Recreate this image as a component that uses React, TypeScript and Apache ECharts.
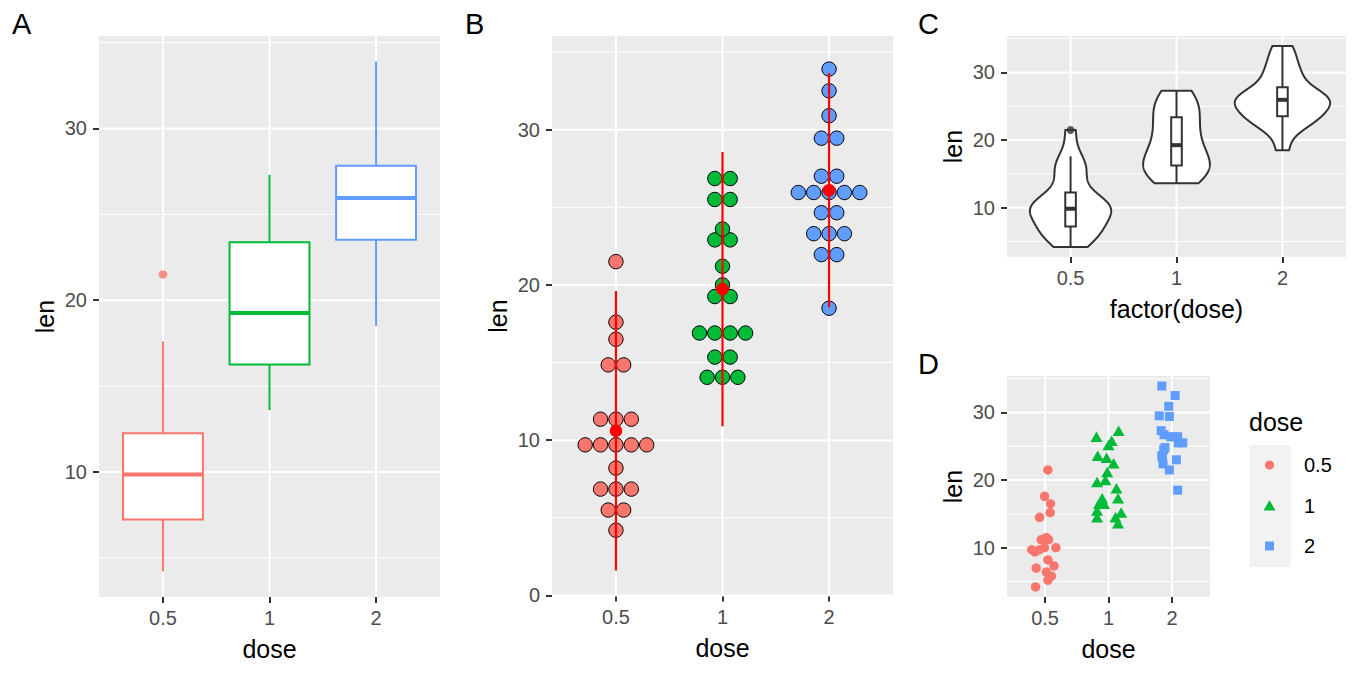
import React, { useEffect, useRef } from 'react';
import * as echarts from 'echarts';

// ---------- data ----------
const doseLabels = ['0.5', '1', '2'];
const dosePositions = [1, 2, 3];
const doseColors = ['#F8766D', '#00BA38', '#619CFF'];

const lenDose05 = [4.2, 5.2, 5.8, 6.4, 7.0, 7.3, 8.2, 9.4, 9.7, 9.7, 10.0, 10.0, 11.2, 11.2, 11.5, 14.5, 15.2, 16.5, 17.6, 21.5];
const lenDose1 = [13.6, 14.5, 14.5, 15.2, 15.5, 16.5, 16.5, 17.3, 17.3, 18.8, 19.7, 20.0, 21.2, 22.5, 23.3, 23.6, 25.2, 25.8, 26.4, 27.3];
const lenDose2 = [18.5, 21.5, 22.4, 23.0, 23.3, 23.6, 24.5, 24.8, 25.5, 25.5, 26.4, 26.4, 26.4, 26.7, 27.3, 29.4, 29.5, 30.9, 32.5, 33.9];

// horizontal jitter (in category units), aligned with the arrays above
const jitterDose05 = [-0.15, 0.045, 0.1, 0.02, -0.14, 0.14, 0.045, -0.16, -0.21, -0.09, -0.01, 0.17, -0.06, 0.055, 0.02, -0.086, 0.08, 0.086, -0.008, 0.044];
const jitterDose1 = [0.15, -0.18, 0.11, 0.2, -0.18, -0.15, -0.07, -0.1, 0.15, 0.125, -0.18, -0.05, -0.02, 0.08, -0.03, -0.17, 0.0, 0.05, -0.19, 0.16];
const jitterDose2 = [0.09, -0.04, -0.14, 0.07, -0.15, -0.16, -0.13, -0.11, 0.1, 0.17, -0.02, 0.04, 0.09, -0.125, -0.17, -0.04, -0.2, -0.05, 0.05, -0.16];

const yMajorACD = [10, 20, 30];
const yMajorB = [0, 10, 20, 30];
const yMinor = [5, 15, 25, 35];

const groups = [lenDose05, lenDose1, lenDose2];
const jitters = [jitterDose05, jitterDose1, jitterDose2];

// ---------- stats ----------
const FONT = '"Liberation Sans", Arial, sans-serif';
const sortNum = (a: number[]) => [...a].sort((x, y) => x - y);
const quantile7 = (s: number[], p: number) => {
  const h = (s.length - 1) * p;
  const lo = Math.floor(h);
  const hi = Math.ceil(h);
  return s[lo] + (h - lo) * (s[hi] - s[lo]);
};
const meanOf = (a: number[]) => a.reduce((s, v) => s + v, 0) / a.length;
const sdOf = (a: number[]) => {
  const m = meanOf(a);
  return Math.sqrt(a.reduce((s, v) => s + (v - m) * (v - m), 0) / (a.length - 1));
};
function boxStats(vals: number[]) {
  const s = sortNum(vals);
  const q1 = quantile7(s, 0.25);
  const med = quantile7(s, 0.5);
  const q3 = quantile7(s, 0.75);
  const iqr = q3 - q1;
  const lo = q1 - 1.5 * iqr;
  const hi = q3 + 1.5 * iqr;
  const inside = s.filter((v) => v >= lo && v <= hi);
  return { min: inside[0], q1, med, q3, max: inside[inside.length - 1], outliers: s.filter((v) => v < lo || v > hi) };
}
const allLen = groups.flat();
const dotBinwidth = (Math.max(...allLen) - Math.min(...allLen)) / 30;
function dotBins(vals: number[], bw: number) {
  const s = sortNum(vals);
  const bins: number[][] = [];
  let end = -Infinity;
  let cur: number[] = [];
  for (const v of s) {
    if (v >= end) {
      if (cur.length) bins.push(cur);
      cur = [];
      end = v + bw;
    }
    cur.push(v);
  }
  if (cur.length) bins.push(cur);
  return bins.map((b) => [(b[0] + b[b.length - 1]) / 2, b.length]);
}
function bwNrd0(s: number[]) {
  const hi = sdOf(s);
  const iqr = quantile7(s, 0.75) - quantile7(s, 0.25);
  let lo = Math.min(hi, iqr / 1.34);
  if (!lo) lo = hi || 1;
  return 0.9 * lo * Math.pow(s.length, -0.2);
}
function kde(vals: number[], n = 256) {
  const s = sortNum(vals);
  const bw = bwNrd0(s);
  const lo = s[0];
  const hi = s[s.length - 1];
  const out: number[][] = [];
  for (let i = 0; i < n; i++) {
    const y = lo + ((hi - lo) * i) / (n - 1);
    let d = 0;
    for (const v of s) {
      const z = (y - v) / bw;
      d += Math.exp(-0.5 * z * z);
    }
    d /= s.length * bw * Math.sqrt(2 * Math.PI);
    out.push([y, d]);
  }
  return out;
}

const stats = groups.map(boxStats);
const densities = groups.map((g) => kde(g));
const maxDensity = Math.max(...densities.map((d) => Math.max(...d.map((p) => p[1]))));
const violinShapes = densities.map((d) => d.map(([y, dd]) => [y, (0.45 * dd) / maxDensity]));

// ---------- helpers for option ----------
const xAxisFor = (gi: number, name: string) => ({
  gridIndex: gi,
  type: 'value',
  min: 0.4,
  max: 3.6,
  name,
  nameLocation: 'middle',
  nameGap: 39,
  nameTextStyle: { fontSize: 25, color: '#000000', fontFamily: FONT },
  axisLine: { show: false },
  splitLine: { show: false },
  axisTick: { show: true, customValues: dosePositions, length: 6, lineStyle: { color: '#333333', width: 2 } },
  axisLabel: {
    customValues: dosePositions,
    formatter: (v: number) => doseLabels[Math.round(v) - 1],
    fontSize: 20,
    color: '#4D4D4D',
    margin: 11,
    fontFamily: FONT,
  },
});
const yAxisFor = (gi: number, min: number, max: number, major: number[]) => ({
  gridIndex: gi,
  type: 'value',
  min,
  max,
  name: 'len',
  nameLocation: 'middle',
  nameRotate: 90,
  nameGap: 42,
  nameTextStyle: { fontSize: 25, color: '#000000', fontFamily: FONT },
  axisLine: { show: false },
  splitLine: { show: false },
  axisTick: { show: true, customValues: major, length: 6, lineStyle: { color: '#333333', width: 2 } },
  axisLabel: { customValues: major, fontSize: 20, color: '#4D4D4D', margin: 12, fontFamily: FONT },
});
const gridSeries = (gi: number, major: number[]) => ({
  type: 'custom',
  xAxisIndex: gi,
  yAxisIndex: gi,
  z: 1,
  silent: true,
  data: [
    ...yMinor.map((v) => [0, v, 1]),
    ...major.map((v) => [0, v, 2]),
    ...dosePositions.map((v) => [1, v, 2]),
  ],
  renderItem: (params: any, api: any) => {
    const cs = params.coordSys;
    const o = api.value(0);
    const v = api.value(1);
    const w = api.value(2);
    if (o === 0) {
      const y = api.coord([1, v])[1];
      return { type: 'line', shape: { x1: cs.x, y1: y, x2: cs.x + cs.width, y2: y }, style: { stroke: '#FFFFFF', lineWidth: w } };
    }
    const x = api.coord([v, 10])[0];
    return { type: 'line', shape: { x1: x, y1: cs.y, x2: x, y2: cs.y + cs.height }, style: { stroke: '#FFFFFF', lineWidth: w } };
  },
});
const boxSeries = (gi: number, half: number, colorFn: (i: number) => string, lw: number, medLw: number) => ({
  type: 'custom',
  xAxisIndex: gi,
  yAxisIndex: gi,
  z: 3,
  data: stats.map((s, i) => [dosePositions[i], s.min, s.q1, s.med, s.q3, s.max]),
  encode: { x: 0, y: [1, 2, 3, 4, 5] },
  renderItem: (params: any, api: any) => {
    const x = api.value(0);
    const pMin = api.coord([x, api.value(1)]);
    const pQ1 = api.coord([x, api.value(2)]);
    const pMd = api.coord([x, api.value(3)]);
    const pQ3 = api.coord([x, api.value(4)]);
    const pMax = api.coord([x, api.value(5)]);
    const left = api.coord([x - half, 10])[0];
    const right = api.coord([x + half, 10])[0];
    const c = colorFn(params.dataIndex);
    return {
      type: 'group',
      children: [
        { type: 'line', shape: { x1: pMin[0], y1: pMin[1], x2: pQ1[0], y2: pQ1[1] }, style: { stroke: c, lineWidth: lw } },
        { type: 'line', shape: { x1: pQ3[0], y1: pQ3[1], x2: pMax[0], y2: pMax[1] }, style: { stroke: c, lineWidth: lw } },
        { type: 'rect', shape: { x: left, y: pQ3[1], width: right - left, height: pQ1[1] - pQ3[1] }, style: { fill: '#FFFFFF', stroke: c, lineWidth: lw } },
        { type: 'line', shape: { x1: left, y1: pMd[1], x2: right, y2: pMd[1] }, style: { stroke: c, lineWidth: medLw } },
      ],
    };
  },
});

const dotData: number[][] = [];
groups.forEach((g, gi) => {
  dotBins(g, dotBinwidth).forEach(([c, n]) => dotData.push([dosePositions[gi], c, n, gi]));
});
const summaryData = groups.map((g, i) => {
  const m = meanOf(g);
  const s = sdOf(g);
  return [dosePositions[i], m - 2 * s, m, m + 2 * s];
});
const outlierData = () => {
  const out: number[][] = [];
  stats.forEach((s, i) => s.outliers.forEach((v) => out.push([dosePositions[i], v, i])));
  return out;
};

const shapes = ['circle', 'triangle', 'rect'];
const shapeSizes: any[] = [9.5, [12, 10.5], 9];

function buildOption(): any {
  const panelLabel = (t: string, x: number, y: number) => ({
    type: 'text',
    x,
    y,
    style: { text: t, fontSize: 29, fontFamily: FONT, fill: '#000000', align: 'left', verticalAlign: 'middle' },
  });
  const legendY = [465, 506, 546];
  const legendX = 1269.5;
  return {
    animation: false,
    backgroundColor: '#FFFFFF',
    textStyle: { fontFamily: FONT },
    grid: [
      { left: 99, top: 36, width: 341, height: 561, show: true, backgroundColor: '#EBEBEB', borderWidth: 0, outerBoundsMode: 'none' },
      { left: 552, top: 36, width: 341, height: 560, show: true, backgroundColor: '#EBEBEB', borderWidth: 0, outerBoundsMode: 'none' },
      { left: 1007, top: 36, width: 339, height: 221, show: true, backgroundColor: '#EBEBEB', borderWidth: 0, outerBoundsMode: 'none' },
      { left: 1007, top: 376, width: 203, height: 221, show: true, backgroundColor: '#EBEBEB', borderWidth: 0, outerBoundsMode: 'none' },
    ],
    xAxis: [xAxisFor(0, 'dose'), xAxisFor(1, 'dose'), xAxisFor(2, 'factor(dose)'), xAxisFor(3, 'dose')],
    yAxis: [
      yAxisFor(0, 2.715, 35.385, yMajorACD),
      yAxisFor(1, -0.035, 36.03, yMajorB),
      yAxisFor(2, 2.715, 35.385, yMajorACD),
      yAxisFor(3, 2.715, 35.385, yMajorACD),
    ],
    series: [
      gridSeries(0, yMajorACD),
      gridSeries(1, yMajorB),
      gridSeries(2, yMajorACD),
      gridSeries(3, yMajorACD),
      // A: boxplots
      boxSeries(0, 0.375, (i) => doseColors[i], 2, 4),
      {
        type: 'scatter',
        xAxisIndex: 0,
        yAxisIndex: 0,
        z: 4,
        symbol: 'circle',
        symbolSize: 8.5,
        data: outlierData().map((d) => ({ value: [d[0], d[1]], itemStyle: { color: doseColors[d[2]] } })),
      },
      // B: dotplot
      {
        type: 'custom',
        xAxisIndex: 1,
        yAxisIndex: 1,
        z: 3,
        data: dotData,
        renderItem: (params: any, api: any) => {
          const x = api.value(0);
          const c = api.value(1);
          const n = api.value(2);
          const g = api.value(3);
          const p = api.coord([x, c]);
          const d = api.size([0, dotBinwidth])[1];
          const children: any[] = [];
          for (let j = 0; j < n; j++) {
            const off = (j - (n - 1) / 2) * d;
            children.push({
              type: 'circle',
              shape: { cx: p[0] + off, cy: p[1], r: d / 2 - 0.5 },
              style: { fill: doseColors[g], stroke: '#000000', lineWidth: 1 },
            });
          }
          return { type: 'group', children };
        },
      },
      {
        type: 'custom',
        xAxisIndex: 1,
        yAxisIndex: 1,
        z: 4,
        data: summaryData,
        renderItem: (params: any, api: any) => {
          const x = api.value(0);
          const pLo = api.coord([x, api.value(1)]);
          const pM = api.coord([x, api.value(2)]);
          const pHi = api.coord([x, api.value(3)]);
          return {
            type: 'group',
            children: [
              { type: 'line', shape: { x1: pLo[0], y1: pLo[1], x2: pHi[0], y2: pHi[1] }, style: { stroke: '#FF0000', lineWidth: 2.2 } },
              { type: 'circle', shape: { cx: pM[0], cy: pM[1], r: 6.3 }, style: { fill: '#FF0000' } },
            ],
          };
        },
      },
      // C: violins
      {
        type: 'custom',
        xAxisIndex: 2,
        yAxisIndex: 2,
        z: 3,
        data: dosePositions.map((x, i) => [x, stats[i].med, i]),
        renderItem: (params: any, api: any) => {
          const x = api.value(0);
          const g = api.value(2);
          const shape = violinShapes[g];
          const pts: number[][] = [];
          for (const [y, hw] of shape) pts.push(api.coord([x - hw, y]));
          for (let k = shape.length - 1; k >= 0; k--) pts.push(api.coord([x + shape[k][1], shape[k][0]]));
          return { type: 'polygon', shape: { points: pts }, style: { fill: '#FFFFFF', stroke: '#333333', lineWidth: 2 } };
        },
      },
      boxSeries(2, 0.05, () => '#333333', 2, 4),
      {
        type: 'scatter',
        xAxisIndex: 2,
        yAxisIndex: 2,
        z: 5,
        symbol: 'circle',
        symbolSize: 8,
        itemStyle: { color: '#333333' },
        data: outlierData().map((d) => [d[0], d[1]]),
      },
      // D: jittered points
      ...groups.map((g, i) => ({
        type: 'scatter',
        name: doseLabels[i],
        xAxisIndex: 3,
        yAxisIndex: 3,
        z: 3,
        symbol: shapes[i],
        symbolSize: shapeSizes[i],
        itemStyle: { color: doseColors[i], opacity: 1 },
        data: g.map((v, k) => [dosePositions[i] + jitters[i][k], v]),
      })),
    ],
    graphic: [
      panelLabel('A', 12, 24),
      panelLabel('B', 465, 24),
      panelLabel('C', 918, 24),
      panelLabel('D', 918, 364),
      {
        type: 'text',
        x: 1249,
        y: 422,
        style: { text: 'dose', fontSize: 25, fontFamily: FONT, fill: '#000000', align: 'left', verticalAlign: 'middle' },
      },
      { type: 'rect', shape: { x: 1249.3, y: 445, width: 41.5, height: 122 }, style: { fill: '#F2F2F2' } },
      { type: 'circle', shape: { cx: legendX, cy: legendY[0], r: 4.6 }, style: { fill: doseColors[0] } },
      {
        type: 'polygon',
        shape: { points: [[legendX, legendY[1] - 5.8], [legendX + 6, legendY[1] + 4.4], [legendX - 6, legendY[1] + 4.4]] },
        style: { fill: doseColors[1] },
      },
      { type: 'rect', shape: { x: legendX - 4.5, y: legendY[2] - 4.5, width: 9, height: 9 }, style: { fill: doseColors[2] } },
      ...doseLabels.map((t, i) => ({
        type: 'text',
        x: 1304,
        y: legendY[i],
        style: { text: t, fontSize: 20, fontFamily: FONT, fill: '#000000', align: 'left', verticalAlign: 'middle' },
      })),
    ],
  };
}

export default function App() {
  const ref = useRef<HTMLDivElement>(null);
  useEffect(() => {
    if (!ref.current) return;
    const chart = echarts.init(ref.current, undefined, { renderer: 'svg' });
    chart.setOption(buildOption());
    return () => chart.dispose();
  }, []);
  return <div ref={ref} style={{ position: 'absolute', left: 0, top: 0, width: 1359, height: 694 }} />;
}
